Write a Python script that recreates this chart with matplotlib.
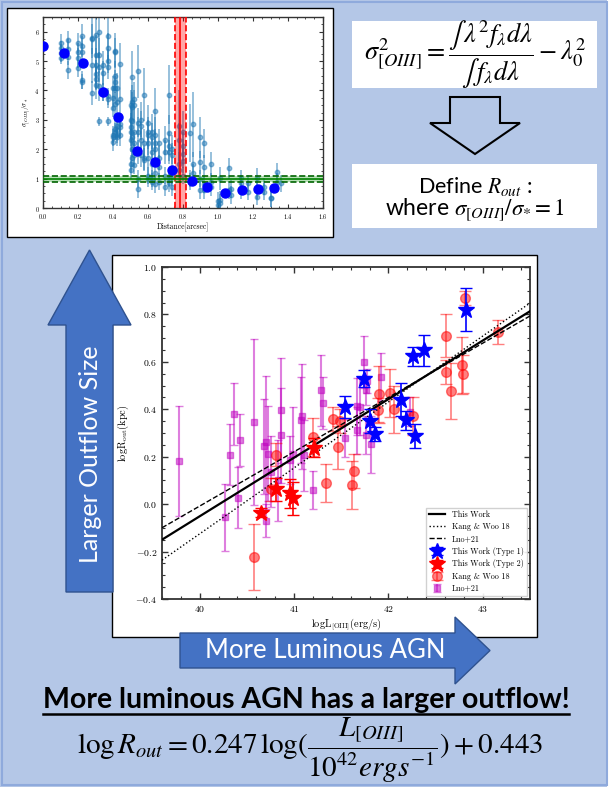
import matplotlib
matplotlib.use('Agg')
import matplotlib.pyplot as plt
from matplotlib.patches import Rectangle, Polygon
from matplotlib.ticker import MultipleLocator
import numpy as np

# ---------------- data: main relation ----------------
type1_x = [42.82, 42.38, 42.26, 41.745, 41.54, 42.13, 41.80, 42.19, 41.86, 42.28]
type1_y = [0.82, 0.648, 0.623, 0.529, 0.41, 0.44, 0.35, 0.353, 0.295, 0.288]
type1_err = [0.09, 0.065, 0.04, 0.035, 0.045, 0.07, 0.05, 0.04, 0.03, 0.05]

type2_x = [40.645, 40.81, 40.96, 40.99, 41.21]
type2_y = [-0.036, 0.062, 0.045, 0.024, 0.238]
type2_err = [0.02, 0.05, 0.06, 0.07, 0.04]

kw_x = [42.81, 43.16, 42.61, 42.61, 42.78, 42.79, 42.66, 42.02, 42.06, 41.90, 41.89, 42.26,
        41.415, 41.49, 41.47, 41.195, 41.34, 41.63, 41.61, 40.805, 40.75, 40.58]
kw_y = [0.87, 0.725, 0.71, 0.557, 0.585, 0.55, 0.477, 0.468, 0.40, 0.463, 0.398, 0.372,
        0.36, 0.35, 0.24, 0.283, 0.09, 0.14, 0.08, 0.209, 0.062, -0.222]
kw_err = [0.03, 0.05, 0.09, 0.05, 0.12, 0.08, 0.12, 0.1, 0.1, 0.12, 0.05, 0.08,
          0.05, 0.05, 0.09, 0.08, 0.08, 0.07, 0.1, 0.05, 0.05, 0.14]

luo_x = [39.78, 40.32, 40.36, 40.43, 40.41, 40.27, 40.57, 40.70, 40.68, 40.72, 40.705,
         40.865, 40.86, 40.75, 40.96, 40.99, 41.08, 41.07, 41.10, 41.205, 41.29, 41.31,
         41.54, 41.74, 41.76, 41.77, 41.67, 41.70, 41.67, 41.76, 41.82, 41.92, 42.23, 40.83]
luo_y = [0.182, 0.209, 0.381, 0.272, 0.028, -0.056, 0.346, 0.26, 0.244, 0.213, -0.07,
         0.395, 0.29, 0.136, 0.186, 0.21, 0.37, 0.355, 0.206, 0.059, 0.48, 0.426,
         0.28, 0.6, 0.48, 0.52, 0.412, 0.41, 0.311, 0.29, 0.252, 0.536, 0.39, 0.10]
luo_err = [0.23, 0.13, 0.13, 0.11, 0.13, 0.14, 0.35, 0.28, 0.2, 0.2, 0.07,
           0.22, 0.2, 0.15, 0.1, 0.2, 0.22, 0.18, 0.15, 0.08, 0.15, 0.11,
           0.08, 0.11, 0.06, 0.05, 0.12, 0.12, 0.1, 0.08, 0.12, 0.1, 0.06, 0.17]

# fitted relations: slope, value at logL = 42
fit_this = (0.247, 0.443)
fit_kw = (0.278, 0.431)
fit_luo = (0.229, 0.450)

# ---------------- data: sigma ratio profile ----------------
col_x = [0.10, 0.14, 0.20, 0.22, 0.28, 0.30, 0.32, 0.34, 0.37, 0.40, 0.41, 0.42, 0.44,
         0.50, 0.51, 0.52, 0.54, 0.56, 0.58, 0.60, 0.62, 0.64, 0.66, 0.70, 0.72, 0.74,
         0.78, 0.80, 0.84, 0.86, 0.90, 0.92, 0.96, 1.00, 1.01, 1.065, 1.075, 1.13, 1.17,
         1.22, 1.26, 1.30, 1.336, 1.36]
col_y = [[5.62, 5.45, 5.28, 5.11], [5.72, 5.4, 5.15, 4.7], [5.62, 5.3, 5.1, 4.75],
         [5.85, 5.5, 5.3, 4.35, 4.3], [5.8, 5.75, 4.85, 3.92], [5.9, 5.2, 4.85, 4.55, 4.4, 4.2],
         [6.0, 5.2, 4.8, 4.15, 2.95], [4.85, 4.6, 4.0, 3.95], [5.85, 5.45, 5.0, 4.8, 3.8, 3.7, 2.95],
         [4.1, 3.75, 3.4, 2.5, 2.4, 2.25], [5.35, 5.3, 4.5, 4.3, 4.1, 3.55, 2.7, 2.6],
         [4.1, 3.6, 2.8, 2.65, 2.5, 2.4], [4.9, 3.7, 2.85, 2.75, 2.5],
         [3.5, 3.0, 2.75, 2.6, 2.3, 1.5, 1.3], [4.45, 3.6, 3.45, 2.95, 2.4, 2.0, 1.7],
         [3.7, 3.5, 2.6, 2.2, 1.8, 1.45], [4.65, 2.9, 2.6, 1.9, 1.0, 0.65], [3.0, 2.8, 2.3, 1.8],
         [3.85, 2.2, 1.7, 1.65], [2.9, 2.6, 2.5, 2.2, 1.7, 1.1, 1.0], [2.6, 2.4, 1.9, 1.5, 1.0, 0.9],
         [3.3, 2.5, 2.2, 2.0, 1.2, 0.8], [2.2, 1.7, 1.4, 0.9], [2.3, 1.9, 1.1, 0.7],
         [3.85, 2.55, 2.1, 1.9, 1.0, 0.85], [2.0, 1.8, 1.1, 0.7], [2.8, 2.3, 1.5, 1.3],
         [2.6, 2.1, 1.85, 1.6, 1.1], [2.55, 1.0, 0.9], [2.85, 1.5, 1.2], [2.4, 1.55, 1.0, 0.6],
         [2.2, 1.4, 0.8, 0.6], [1.5, 0.9, 0.7], [0.25, 0.1], [1.01, 0.27, 0.16], [1.35, 0.61],
         [0.65, 0.45], [1.01, 0.84, 0.61], [0.84, 0.56], [1.01, 0.61, 0.39], [0.73, 0.56],
         [0.33, 0.33], [1.24, 0.9], [0.84]]
col_err = [[0.3, 0.25, 0.3, 0.2], [0.3, 0.35, 0.3, 0.3], [0.35, 0.3, 0.35, 0.3],
           [0.4, 0.35, 0.3, 0.3, 0.25], [0.7, 0.5, 0.6, 0.4], [0.8, 0.7, 0.6, 0.5, 0.4, 0.5],
           [0.9, 0.6, 0.5, 0.5, 0.15], [0.5, 0.4, 0.35, 0.3], [0.9, 0.5, 0.4, 0.4, 0.3, 0.3, 0.15],
           [0.4, 0.4, 0.3, 0.3, 0.3, 0.3], [0.6, 0.5, 0.5, 0.4, 0.4, 0.4, 0.4, 0.3],
           [0.5, 0.4, 0.4, 0.3, 0.3, 0.3], [0.7, 0.5, 0.4, 0.4, 0.4],
           [0.5, 0.5, 0.5, 0.5, 0.4, 0.3, 0.3], [0.9, 0.6, 0.5, 0.5, 0.5, 0.4, 0.3],
           [0.6, 0.5, 0.5, 0.4, 0.4, 0.3], [0.9, 0.5, 0.5, 0.4, 0.3, 0.3], [0.6, 0.5, 0.4, 0.4],
           [0.9, 0.5, 0.4, 0.4], [0.6, 0.5, 0.5, 0.4, 0.4, 0.3, 0.3], [0.6, 0.5, 0.4, 0.4, 0.3, 0.3],
           [0.8, 0.6, 0.5, 0.4, 0.3, 0.3], [0.5, 0.4, 0.4, 0.3], [0.5, 0.4, 0.3, 0.3],
           [1.0, 0.6, 0.5, 0.4, 0.3, 0.3], [0.5, 0.4, 0.3, 0.3], [1.2, 0.6, 0.4, 0.4],
           [0.7, 0.5, 0.5, 0.4, 0.3], [1.0, 0.3, 0.3], [1.1, 0.4, 0.3], [0.7, 0.4, 0.3, 0.3],
           [0.5, 0.4, 0.3, 0.3], [0.4, 0.3, 0.3], [0.3, 0.2], [0.4, 0.3, 0.3], [0.35, 0.3],
           [0.3, 0.3], [0.3, 0.3, 0.3], [0.3, 0.3], [0.35, 0.3, 0.3], [0.3, 0.3],
           [0.3, 0.3], [0.3, 0.3], [0.3]]

bin_x = [0.0, 0.12, 0.23, 0.34, 0.43, 0.535, 0.64, 0.74, 0.85, 0.94, 1.04, 1.135, 1.23, 1.32]
bin_y = [5.5, 5.26, 4.93, 3.96, 3.1, 1.93, 1.55, 1.28, 0.93, 0.73, 0.5, 0.6, 0.65, 0.68]

r_out, r_out_lo, r_out_hi = 0.785, 0.752, 0.815
ratio_one, ratio_lo, ratio_hi = 1.0, 0.9, 1.1

# ---------------- style ----------------
plt.rcParams['font.family'] = 'serif'
plt.rcParams['font.serif'] = ['cmr10', 'DejaVu Serif']
plt.rcParams['mathtext.fontset'] = 'cm'
plt.rcParams['axes.formatter.use_mathtext'] = True

W, H = 611, 787
fig = plt.figure(figsize=(W / 100, H / 100), dpi=100)
BG = '#B4C7E7'
fig.patch.set_facecolor(BG)

bg = fig.add_axes([0, 0, 1, 1], zorder=0)
bg.set_xlim(0, W)
bg.set_ylim(H, 0)
bg.axis('off')


def ax_rect(x0, y0, x1, y1):
    return [x0 / W, 1 - y1 / H, (x1 - x0) / W, (y1 - y0) / H]


# frame
bg.add_patch(Rectangle((607, 0), 4, H, fc='white', ec='none'))
bg.add_patch(Rectangle((1.5, 1.5), 605, 783, fill=False, ec='#8FAADC', lw=1.5))

# white boxes
bg.add_patch(Rectangle((7, 8), 326, 229, fc='white', ec='black', lw=1))
bg.add_patch(Rectangle((112, 255), 425, 382, fc='white', ec='black', lw=1))
bg.add_patch(Rectangle((352, 21), 245, 67, fc='white', ec='none'))
bg.add_patch(Rectangle((352, 164), 245, 64, fc='white', ec='none'))

# formula + arrow (top right)
bg.text(475, 55, r'$\sigma^2_{[OIII]} = \dfrac{\int\,\lambda^2 f_\lambda d\lambda}{\int\, f_\lambda d\lambda} - \lambda_0^2$',
        math_fontfamily='stix', fontsize=19, ha='center', va='center')
bg.add_patch(Polygon([(450, 97), (500, 97), (500, 123), (520, 123), (475, 154), (430, 123), (450, 123)],
                     closed=True, fc=BG, ec='black', lw=1.5))
bg.text(475, 186, r'Define $R_{out}$ :', family='Lato', math_fontfamily='stix', fontsize=15.5,
        ha='center', va='center')
bg.text(475, 210, r'where $\sigma_{[OIII]}/\sigma_{*} = 1$', family='Lato', math_fontfamily='stix',
        fontsize=16.5, ha='center', va='center')

# big arrows
ARROW = '#4472C4'
bg.add_patch(Polygon([(66, 592), (113, 592), (113, 325), (131, 325), (89.5, 250), (48, 325), (66, 325)],
                     closed=True, fc=ARROW, ec='#2F528F', lw=1, zorder=3))
bg.text(91, 454, 'Larger Outflow Size', rotation=90, color='white', family='Lato', fontsize=18,
        ha='center', va='center', zorder=4)
bg.add_patch(Polygon([(180, 633), (455, 633), (455, 617), (490, 650.5), (455, 684), (455, 668), (180, 668)],
                     closed=True, fc=ARROW, ec='#2F528F', lw=1, zorder=3))
bg.text(325, 651, 'More Luminous AGN', color='white', family='Lato', fontsize=18.5,
        ha='center', va='center', zorder=4)

# headline and relation
head = bg.text(306, 700, 'More luminous AGN has a larger outflow!', family='Lato', weight='bold',
               fontsize=20.5, ha='center', va='center')
bg.text(310, 750, r'$\log R_{out} = 0.247\,\log(\dfrac{L_{[OIII]}}{10^{42}ergs^{-1}}) + 0.443$',
        math_fontfamily='stix', fontsize=21, ha='center', va='center')

# ---------------- main chart ----------------
ax = fig.add_axes(ax_rect(162, 267, 530, 599), zorder=1)
xl = np.array([39.6, 43.5])
h_this, = ax.plot(xl, fit_this[0] * (xl - 42) + fit_this[1], 'k-', lw=1.6, zorder=5)
h_kw, = ax.plot(xl, fit_kw[0] * (xl - 42) + fit_kw[1], 'k:', lw=1.0, zorder=5)
h_luo, = ax.plot(xl, fit_luo[0] * (xl - 42) + fit_luo[1], 'k--', lw=1.0, zorder=5)
e_luo = ax.errorbar(luo_x, luo_y, yerr=luo_err, fmt='s', color='m', alpha=0.5, ms=4.5,
                    capsize=3, elinewidth=1.5, zorder=2)
e_kw = ax.errorbar(kw_x, kw_y, yerr=kw_err, fmt='o', color='red', alpha=0.5, ms=7,
                   capsize=4, elinewidth=1.2, zorder=3)
e_t1 = ax.errorbar(type1_x, type1_y, yerr=type1_err, fmt='*', color='blue', ms=12,
                   capsize=4, elinewidth=1.2, zorder=6)
e_t2 = ax.errorbar(type2_x, type2_y, yerr=type2_err, fmt='*', color='red', ms=12,
                   capsize=4, elinewidth=1.2, zorder=6)
ax.set_xlim(39.6, 43.5)
ax.set_ylim(-0.4, 1.0)
ax.xaxis.set_major_locator(MultipleLocator(1))
ax.xaxis.set_minor_locator(MultipleLocator(0.2))
ax.yaxis.set_major_locator(MultipleLocator(0.2))
ax.yaxis.set_minor_locator(MultipleLocator(0.05))
ax.tick_params(which='both', direction='in', top=True, right=True, labelsize=7, color='#333333')
ax.tick_params(which='major', length=4, width=1)
ax.tick_params(which='minor', length=2, width=0.8)
for s in ax.spines.values():
    s.set_linewidth(1.3)
    s.set_color('#333333')
ax.set_xlabel(r'logL$_{\rm [OIII]}$(erg/s)', fontsize=7.5, labelpad=2)
ax.set_ylabel(r'logR$_{\rm out}$(kpc)', fontsize=7.5, labelpad=3)
ax.legend([h_this, h_kw, h_luo, e_t1, e_t2, e_kw, e_luo],
          ['This Work', 'Kang & Woo 18', 'Luo+21', 'This Work (Type 1)', 'This Work (Type 2)',
           'Kang & Woo 18', 'Luo+21'],
          loc='lower right', fontsize=5.8, labelspacing=0.45, handlelength=2.0,
          borderaxespad=0.4, fancybox=False, framealpha=0.9)

# ---------------- profile chart ----------------
ax2 = fig.add_axes(ax_rect(43, 17, 323, 208), zorder=1)
px, py, pe = [], [], []
for cx, ys, es in zip(col_x, col_y, col_err):
    px += [cx] * len(ys)
    py += ys
    pe += es
ax2.errorbar(px, py, yerr=pe, fmt='o', color='#1f77b4', alpha=0.5, ms=3.2, elinewidth=1.3, zorder=2)
ax2.plot(bin_x, bin_y, 'o', color='blue', ms=6.5, zorder=4)
ax2.axvspan(r_out_lo, r_out_hi, color='red', alpha=0.35, lw=0, zorder=3)
ax2.axvline(r_out, color='red', lw=1.2, zorder=3)
ax2.axvline(r_out_lo, color='red', lw=1.2, ls='--', zorder=3)
ax2.axvline(r_out_hi, color='red', lw=1.2, ls='--', zorder=3)
ax2.axhspan(ratio_lo, ratio_hi, color='#33aa33', alpha=0.35, lw=0, zorder=3)
ax2.axhline(ratio_one, color='green', lw=1.2, zorder=3)
ax2.axhline(ratio_lo, color='darkgreen', lw=1.2, ls='--', zorder=3)
ax2.axhline(ratio_hi, color='darkgreen', lw=1.2, ls='--', zorder=3)
ax2.set_xlim(0, 1.6)
ax2.set_ylim(0, 6.5)
ax2.xaxis.set_major_locator(MultipleLocator(0.2))
ax2.xaxis.set_minor_locator(MultipleLocator(0.05))
ax2.yaxis.set_major_locator(MultipleLocator(1))
ax2.yaxis.set_minor_locator(MultipleLocator(0.25))
ax2.tick_params(which='both', direction='in', top=True, right=True, labelsize=4.5,
                color='#333333')
ax2.tick_params(axis='x', pad=3)
ax2.tick_params(axis='y', pad=2.5)
ax2.tick_params(which='major', length=3, width=0.8)
ax2.tick_params(which='minor', length=1.5, width=0.6)
for s in ax2.spines.values():
    s.set_linewidth(1.0)
    s.set_color('#333333')
ax2.set_xlabel('Distance[arcsec]', fontsize=5.5, labelpad=1)
ax2.set_ylabel(r'$\sigma_{[OIII]}/\sigma_*$', fontsize=5, labelpad=2)

# underline for headline
fig.canvas.draw()
bb = head.get_window_extent(fig.canvas.get_renderer())
inv = bg.transData.inverted()
(xa, ya), (xb, yb) = inv.transform([[bb.x0, bb.y0], [bb.x1, bb.y1]])
bg.plot([xa, xb], [ya + 1, ya + 1], color='black', lw=1.8)

fig.savefig('out.png', dpi=100, facecolor=fig.get_facecolor())
